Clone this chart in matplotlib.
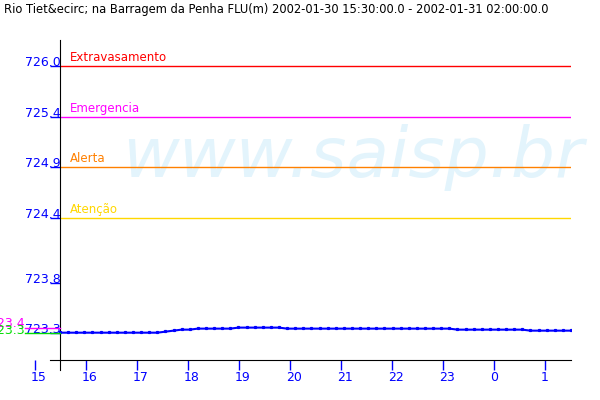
import numpy as np
import matplotlib
matplotlib.use("Agg")
import matplotlib.pyplot as plt
from matplotlib.transforms import ScaledTranslation

# ---------------- data ----------------
title = "Rio Tiet&ecirc; na Barragem da Penha FLU(m) 2002-01-30 15:30:00.0 - 2002-01-31 02:00:00.0"
start_hour = 15.5          # 15:30
step_minutes = 10
levels = [723.37] * 13 + [723.38, 723.39, 723.40, 723.40] + [723.41] * 5 + \
         [723.42] * 6 + [723.41] * 21 + [723.40] * 9 + [723.39] * 6

threshold_names = ["Extravasamento", "Emergencia", "Alerta", "Atenção"]
threshold_values = [726.0, 725.5, 725.0, 724.5]
threshold_colors = ["#ff0000", "#ff00ff", "#ff8000", "#ffd700"]

ytick_values = [726.0, 725.5, 725.0, 724.5, 723.86, 723.37]
ytick_labels = ["726.0", "725.4", "724.9", "724.4", "723.8", "723.3"]
xtick_labels = ["15", "16", "17", "18", "19", "20", "21", "22", "23", "0", "1"]

# ---------------- figure ----------------
W, H, DPI = 600, 400, 100
fig = plt.figure(figsize=(W / DPI, H / DPI), dpi=DPI)
ax = fig.add_axes([30 / W, 30 / H, 541 / W, 330 / H])
ax.set_facecolor("white")

pxh = 48.67                      # pixels per hour along x
x_left = 26.0 - 541 / pxh
x_right = 26.0
ax.set_xlim(x_left, x_right)
ax.set_ylim(723.002, 726.256)

hours = start_hour + np.arange(len(levels)) * step_minutes / 60.0
BLUE = "#0000ff"

# watermark
ax.text(0.17, 0.585, "www.saisp.br", transform=ax.transAxes, fontsize=50,
        style="italic", color="#e3f4fc", ha="left", va="baseline", zorder=0)

# thresholds
for name, val, col in zip(threshold_names, threshold_values, threshold_colors):
    ax.hlines(val, start_hour, x_right, color=col, lw=1.0, zorder=2)
    ax.annotate(name, xy=(start_hour, val), xytext=(7.2, 3.6),
                textcoords="offset points", color=col, fontsize=8.5,
                ha="left", va="baseline")

# series
ax.plot(hours, levels, color=BLUE, lw=1.5, zorder=3)
ax.plot(hours, np.array(levels) + 0.008, ls="none", marker="s",
        ms=1.3, color=BLUE, zorder=3)

# max / min markers at left
vmax, vmin = max(levels), min(levels)
x_lo = x_left - 5 / pxh
ax.plot([x_lo, start_hour], [vmax, vmax], color="#ff00ff", lw=1, clip_on=False, zorder=4)
ax.plot([x_lo, start_hour], [vmin, vmin], color="#00dd00", lw=1, clip_on=False, zorder=4)
fig.text(25 / W, 1 - 327 / H, f"{np.floor(vmax * 10) / 10:.1f}", color="#ff00ff",
         fontsize=9, ha="right", va="baseline")
fig.text(25 / W, 1 - 334 / H, f"{np.floor(vmin * 10) / 10:.1f}", color="#00dd00",
         fontsize=9, ha="right", va="baseline")

# spines
for s in ["top", "right"]:
    ax.spines[s].set_visible(False)
ax.spines["left"].set_position(("data", start_hour))
ax.spines["bottom"].set_position(("data", 723.1))
ax.spines["bottom"].set_bounds(x_left + 20 / pxh, x_right)
ax.spines["left"].set_color("black")
ax.spines["bottom"].set_color("black")

# y ticks
ax.set_yticks(ytick_values)
ax.set_yticklabels(ytick_labels)
ax.tick_params(axis="y", direction="out", length=7.2, width=1, color=BLUE,
               labelcolor=BLUE, labelsize=9, pad=-7.6)
for lab in ax.get_yticklabels():
    lab.set_va("baseline")

# x ticks (original spaces them 51 px apart)
xtick_pos = x_left + (5 + 51 * np.arange(len(xtick_labels))) / pxh
ax.set_xticks(xtick_pos)
ax.set_xticklabels(xtick_labels)
ax.tick_params(axis="x", direction="out", length=7.2, width=1, color=BLUE,
               labelcolor=BLUE, labelsize=9, pad=1)
offset = ScaledTranslation(-4 / DPI, 0, fig.dpi_scale_trans)
for lab in ax.get_xticklabels():
    lab.set_ha("left")
    lab.set_transform(lab.get_transform() + offset)

fig.text(4 / W, 1 - 13 / H, title, fontsize=8.3, ha="left", va="baseline", color="black")

fig.savefig("out.png", dpi=DPI, facecolor="white")
